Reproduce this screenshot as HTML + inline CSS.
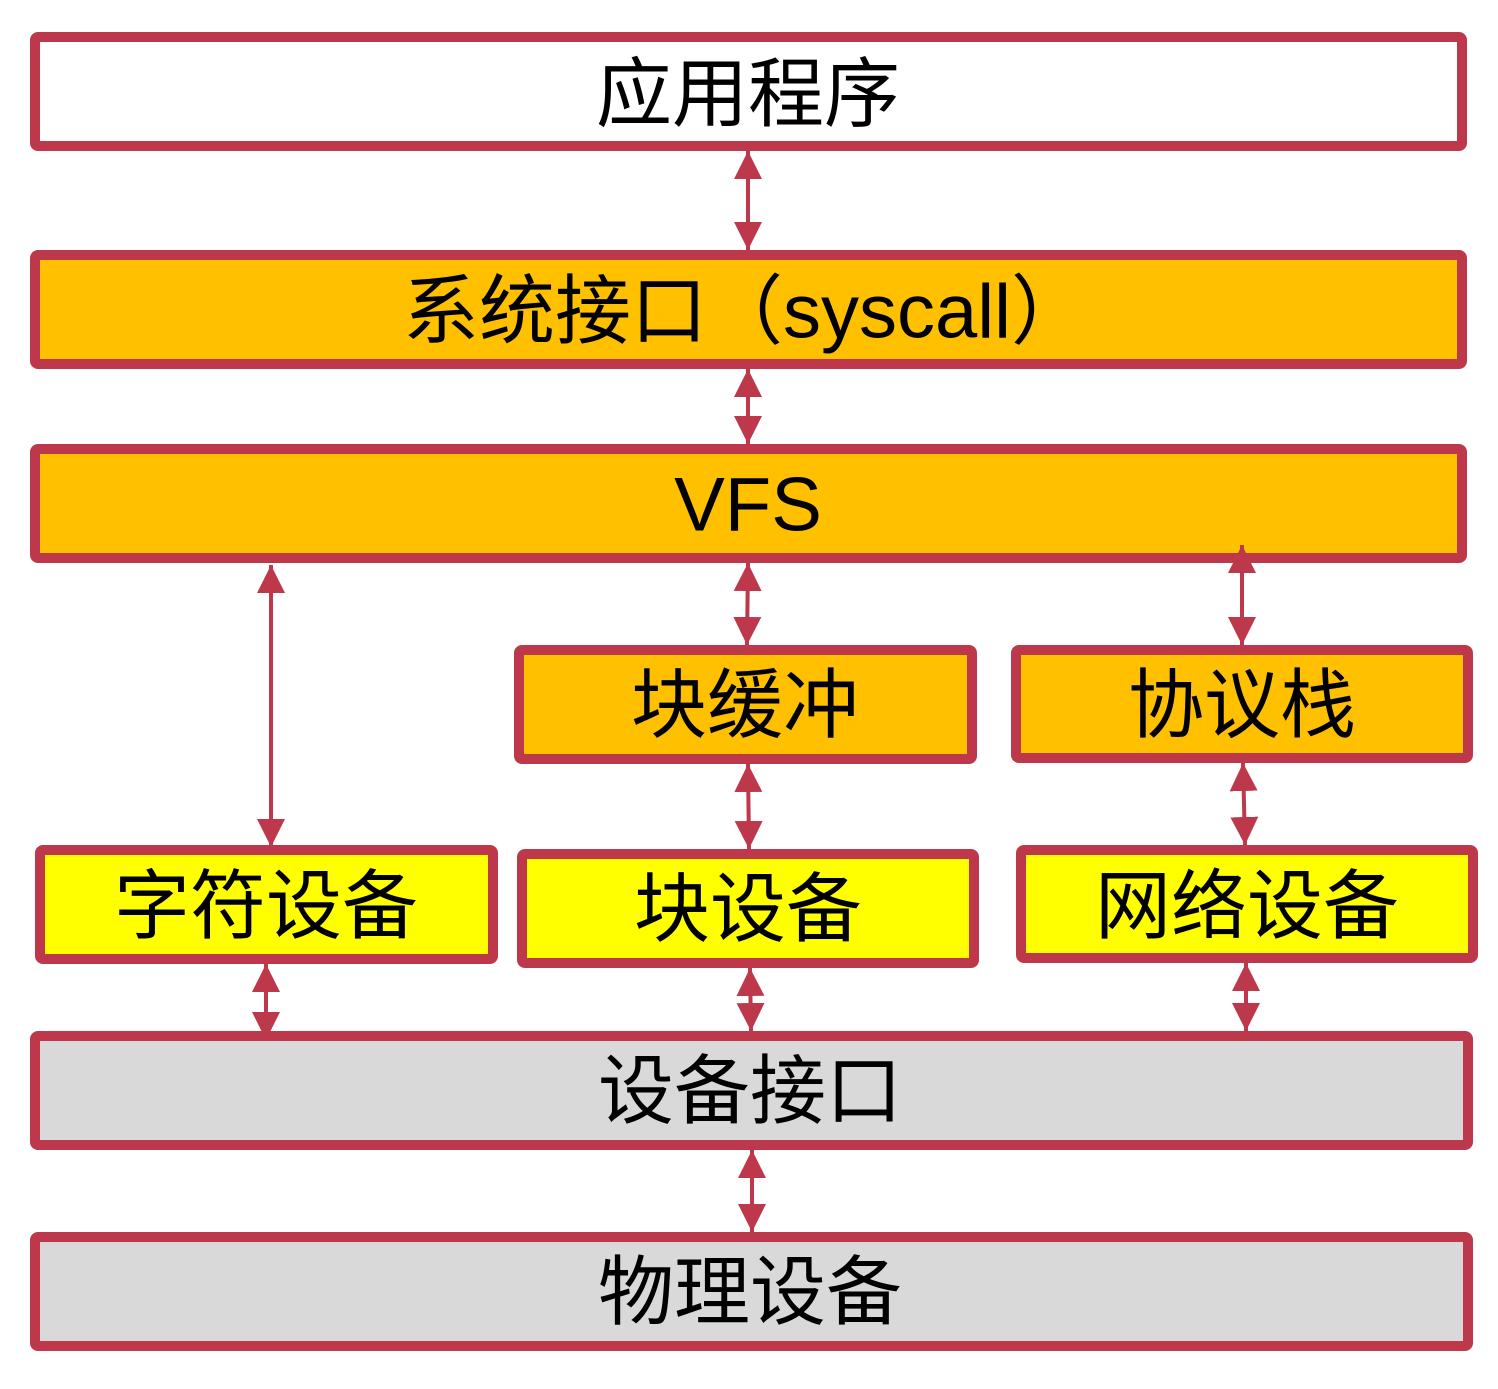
<!DOCTYPE html>
<html><head><meta charset="utf-8"><style>
html,body{margin:0;padding:0;background:#fff}
svg{display:block}
text{font-family:"Liberation Sans","Noto Sans CJK SC",sans-serif;font-size:76px;fill:#000;text-anchor:middle;dominant-baseline:central}
</style></head><body>
<svg width="1498" height="1389" viewBox="0 0 1498 1389" xmlns="http://www.w3.org/2000/svg">
<defs>
<marker id="a" viewBox="0 0 10 10" refX="10" refY="5" markerWidth="7" markerHeight="7" orient="auto-start-reverse" markerUnits="strokeWidth">
<path d="M0,0 L10,5 L0,10 z" fill="#BE384B"/></marker>
</defs>
<g stroke="#BE384B" stroke-width="10">
<rect x="35" y="37" width="1427" height="109" rx="3" fill="#fff"/>
<rect x="35" y="255" width="1427" height="109" rx="3" fill="#FFC000"/>
<rect x="35" y="449" width="1427" height="109" rx="3" fill="#FFC000"/>
<rect x="519" y="650" width="453" height="109" rx="3" fill="#FFC000"/>
<rect x="1016" y="650" width="452" height="108" rx="3" fill="#FFC000"/>
<rect x="40" y="850" width="453" height="109" rx="3" fill="#FFFF00"/>
<rect x="522" y="854" width="452" height="109" rx="3" fill="#FFFF00"/>
<rect x="1021" y="850" width="452" height="108" rx="3" fill="#FFFF00"/>
<rect x="35" y="1036" width="1433" height="109" rx="3" fill="#D9D9D9"/>
<rect x="35" y="1237" width="1433" height="109" rx="3" fill="#D9D9D9"/>
</g>
<g stroke="#BE384B" stroke-width="4" fill="none" marker-start="url(#a)" marker-end="url(#a)">
<line x1="748" y1="151" x2="748" y2="250"/>
<line x1="748" y1="369" x2="748" y2="444"/>
<line x1="271" y1="565" x2="271" y2="847"/>
<line x1="748" y1="563" x2="747" y2="645"/>
<line x1="1242" y1="545" x2="1242" y2="645"/>
<line x1="748" y1="764" x2="749" y2="849"/>
<line x1="1243" y1="763" x2="1245" y2="845"/>
<line x1="266" y1="964" x2="266" y2="1040"/>
<line x1="750" y1="968" x2="751" y2="1031"/>
<line x1="1246" y1="963" x2="1246" y2="1031"/>
<line x1="752" y1="1150" x2="752" y2="1232"/>
</g>
<text x="748" y="95">应用程序</text>
<text x="745" y="312">系统接口（syscall）</text>
<text x="748" y="505">VFS</text>
<text x="745" y="706">块缓冲</text>
<text x="1242" y="706">协议栈</text>
<text x="266" y="907">字符设备</text>
<text x="748" y="910">块设备</text>
<text x="1247" y="907">网络设备</text>
<text x="750" y="1092">设备接口</text>
<text x="750" y="1293">物理设备</text>
</svg>
</body></html>
